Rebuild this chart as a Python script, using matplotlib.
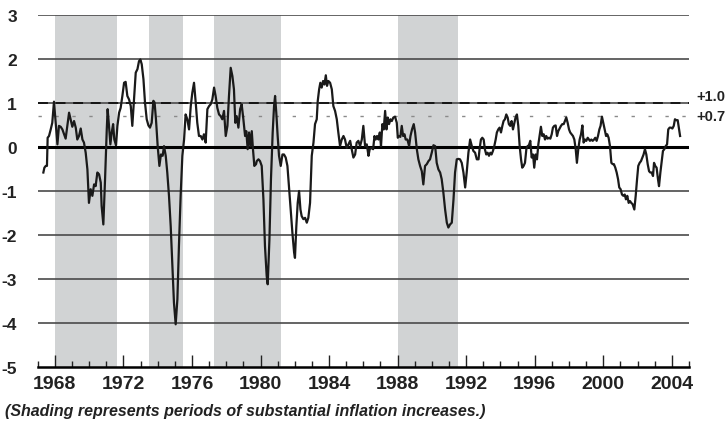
#!/usr/bin/env python3
"""
Recreated chart: indicator with shaded inflation-increase periods
Output: out.png
"""
import numpy as np
import matplotlib
matplotlib.use("Agg")
import matplotlib.pyplot as plt
import matplotlib.transforms as mtransforms

# ── data ──
years = [
    1967.33, 1967.39, 1967.47, 1967.54, 1967.58, 1967.66, 1967.76, 1967.85, 1967.95, 1968.05,
    1968.15, 1968.24, 1968.34, 1968.44, 1968.54, 1968.63, 1968.73, 1968.83, 1968.92, 1969.02,
    1969.12, 1969.22, 1969.31, 1969.41, 1969.51, 1969.61, 1969.70, 1969.80, 1969.90, 1969.99,
    1970.09, 1970.19, 1970.29, 1970.38, 1970.48, 1970.58, 1970.68, 1970.73, 1970.83, 1970.93,
    1971.03, 1971.08, 1971.16, 1971.24, 1971.32, 1971.40, 1971.47, 1971.57, 1971.65, 1971.75,
    1971.84, 1971.94, 1972.04, 1972.13, 1972.23, 1972.33, 1972.43, 1972.52, 1972.62, 1972.72,
    1972.82, 1972.91, 1972.99, 1973.07, 1973.17, 1973.26, 1973.36, 1973.46, 1973.55,
    1973.65, 1973.75, 1973.82, 1973.90, 1974.00, 1974.10, 1974.19, 1974.29, 1974.37, 1974.47,
    1974.56, 1974.66, 1974.76, 1974.86, 1974.95, 1975.05, 1975.15, 1975.24, 1975.34, 1975.44,
    1975.54, 1975.63, 1975.73, 1975.83, 1975.93, 1976.02, 1976.12, 1976.22, 1976.31, 1976.41,
    1976.51, 1976.61, 1976.70, 1976.80, 1976.90, 1977.00, 1977.09, 1977.19, 1977.29, 1977.38,
    1977.48, 1977.58, 1977.68, 1977.77, 1977.87, 1977.97, 1978.07, 1978.16, 1978.26, 1978.36,
    1978.45, 1978.53, 1978.61, 1978.71, 1978.81, 1978.90, 1979.00, 1979.10, 1979.17, 1979.25,
    1979.33, 1979.41, 1979.49, 1979.56, 1979.64, 1979.74,
    1979.78, 1979.88, 1979.97, 1980.07, 1980.17, 1980.26, 1980.36, 1980.42, 1980.52, 1980.61,
    1980.71, 1980.79, 1980.85, 1980.92, 1981.00, 1981.08, 1981.18, 1981.28, 1981.37, 1981.47,
    1981.57, 1981.66, 1981.76, 1981.86, 1981.96, 1982.01, 1982.09, 1982.17, 1982.25, 1982.33,
    1982.40, 1982.50, 1982.60, 1982.70, 1982.79, 1982.89, 1982.99, 1983.09, 1983.18, 1983.28,
    1983.34, 1983.42, 1983.49, 1983.57, 1983.65, 1983.73, 1983.81, 1983.88, 1983.96, 1984.06,
    1984.16, 1984.25, 1984.35, 1984.45, 1984.54, 1984.64, 1984.74, 1984.84, 1984.93, 1985.03,
    1985.13, 1985.23, 1985.32, 1985.42, 1985.52, 1985.61, 1985.71, 1985.81, 1985.91, 1986.00,
    1986.10, 1986.20, 1986.30,
    1986.37, 1986.47, 1986.57, 1986.65, 1986.72, 1986.80, 1986.88, 1986.96, 1987.03, 1987.11,
    1987.19, 1987.27, 1987.35, 1987.42, 1987.50, 1987.58, 1987.66, 1987.75, 1987.85, 1987.95,
    1988.01, 1988.08, 1988.16, 1988.24, 1988.32, 1988.40, 1988.47, 1988.57, 1988.67, 1988.75,
    1988.84, 1988.94, 1989.02, 1989.12, 1989.21, 1989.31, 1989.41, 1989.50, 1989.60, 1989.70,
    1989.80, 1989.89, 1989.99, 1990.09, 1990.19, 1990.28, 1990.38, 1990.48, 1990.57, 1990.67,
    1990.77, 1990.87, 1990.96, 1991.06, 1991.16, 1991.26, 1991.35, 1991.45, 1991.55, 1991.64,
    1991.74, 1991.84, 1991.94, 1992.03, 1992.13, 1992.23, 1992.33, 1992.42, 1992.52, 1992.62,
    1992.72,
    1992.78, 1992.86, 1992.94, 1993.02, 1993.09, 1993.17, 1993.25, 1993.33, 1993.41, 1993.48,
    1993.56, 1993.64, 1993.72, 1993.79, 1993.87, 1993.95, 1994.03, 1994.11, 1994.18, 1994.26,
    1994.34, 1994.42, 1994.49, 1994.57, 1994.65, 1994.73, 1994.81, 1994.88, 1994.96, 1995.04,
    1995.12, 1995.20, 1995.27, 1995.35, 1995.43, 1995.51, 1995.58, 1995.66, 1995.74, 1995.82,
    1995.90, 1995.97, 1996.05, 1996.13, 1996.21, 1996.28, 1996.36, 1996.44, 1996.52, 1996.60,
    1996.67, 1996.75, 1996.83, 1996.91, 1996.99, 1997.06, 1997.14, 1997.22, 1997.30, 1997.37,
    1997.45, 1997.53, 1997.61, 1997.69, 1997.76, 1997.84, 1997.92, 1998.00, 1998.07, 1998.15,
    1998.23, 1998.31, 1998.39, 1998.46, 1998.54, 1998.62, 1998.70, 1998.78, 1998.85, 1998.93,
    1999.01, 1999.09, 1999.16,
    1999.22, 1999.30, 1999.38, 1999.46, 1999.53, 1999.61, 1999.69, 1999.77, 1999.84, 1999.92,
    2000.00, 2000.08, 2000.16, 2000.23, 2000.31, 2000.39, 2000.47, 2000.55, 2000.62, 2000.70,
    2000.78, 2000.86, 2000.93, 2001.01, 2001.09, 2001.17, 2001.25, 2001.32, 2001.40, 2001.48,
    2001.56, 2001.63, 2001.71, 2001.81, 2001.89, 2001.97, 2002.04, 2002.12, 2002.20, 2002.28,
    2002.35, 2002.43, 2002.51, 2002.59, 2002.67, 2002.74, 2002.82, 2002.90, 2002.96, 2003.03,
    2003.11, 2003.19, 2003.25, 2003.33, 2003.40, 2003.48, 2003.56, 2003.64, 2003.72, 2003.79,
    2003.87, 2003.95, 2004.03, 2004.11, 2004.18, 2004.26, 2004.34, 2004.42, 2004.48,
]

values = [
    -0.58, -0.47, -0.43, -0.43, 0.21, 0.25, 0.40, 0.55, 1.03, 0.55,
    0.06, 0.48, 0.46, 0.40, 0.29, 0.19, 0.48, 0.78, 0.63, 0.46,
    0.59, 0.44, 0.17, 0.25, 0.42, 0.17, 0.10, -0.13, -0.51, -1.27,
    -0.96, -1.11, -0.85, -0.89, -0.58, -0.62, -0.81, -1.34, -1.76, -0.73,
    0.40, 0.86, 0.48, 0.06, 0.33, 0.52, 0.17, 0.04, 0.48, 0.78,
    0.89, 1.16, 1.46, 1.48, 1.16, 1.08, 0.93, 0.48, 1.08, 1.69,
    1.77, 1.95, 1.99, 1.88, 1.54, 1.01, 0.63, 0.49, 0.44,
    0.55, 1.05, 1.01, 0.63, 0.02, -0.43, -0.17, -0.20, 0.02, -0.20,
    -0.58, -1.11, -1.80, -2.70, -3.54, -4.03, -3.46, -2.25, -1.11, -0.20,
    0.17, 0.74, 0.63, 0.40, 0.93, 1.23, 1.46, 1.01, 0.55, 0.25,
    0.25, 0.17, 0.29, 0.10, 0.86, 0.93, 0.97, 1.08, 1.35, 1.16,
    0.89, 0.74, 0.70, 0.63, 0.82, 0.25, 0.48, 1.16, 1.80, 1.61,
    1.31, 0.55, 0.70, 0.44, 0.86, 0.97, 0.63, 0.25, 0.36, -0.05,
    0.33, 0.02, 0.36, -0.05, -0.43, -0.39,
    -0.32, -0.28, -0.32, -0.43, -1.19, -2.25, -2.93, -3.12, -2.10, -0.73,
    0.33, 0.93, 1.16, 0.78, 0.25, -0.20, -0.43, -0.17, -0.17, -0.24,
    -0.43, -0.89, -1.42, -1.95, -2.40, -2.52, -1.80, -1.27, -1.00, -1.42,
    -1.57, -1.64, -1.61, -1.72, -1.61, -1.27, -0.20, 0.10, 0.52, 0.63,
    1.05, 1.31, 1.46, 1.35, 1.50, 1.42, 1.63, 1.39, 1.50, 1.46,
    1.31, 0.93, 0.82, 0.63, 0.33, 0.02, 0.17, 0.25, 0.17, -0.02,
    0.06, 0.14, -0.05, -0.24, -0.17, 0.10, 0.14, 0.02, 0.17, 0.48,
    0.02, 0.06, -0.20,
    -0.05, -0.02, -0.05, 0.25, 0.17, 0.25, 0.17, 0.33, 0.02, 0.52,
    0.40, 0.82, 0.40, 0.67, 0.52, 0.63, 0.59, 0.67, 0.69, 0.55,
    0.21, 0.25, 0.23, 0.48, 0.25, 0.29, 0.17, 0.17, 0.02, 0.25,
    0.40, 0.52, 0.33, -0.05, -0.28, -0.43, -0.55, -0.85, -0.43, -0.39,
    -0.32, -0.28, -0.13, 0.04, 0.02, -0.36, -0.51, -0.58, -0.73, -1.04,
    -1.42, -1.72, -1.83, -1.76, -1.72, -1.19, -0.58, -0.28, -0.27, -0.28,
    -0.36, -0.58, -0.92, -0.58, -0.13, 0.17, 0.02, -0.09, -0.13, -0.28,
    -0.28,
    -0.05, 0.17, 0.21, 0.17, -0.05, -0.17, -0.13, -0.20, -0.13, -0.17,
    -0.09, 0.02, 0.17, 0.33, 0.40, 0.44, 0.33, 0.48, 0.59, 0.63,
    0.74, 0.67, 0.52, 0.48, 0.59, 0.40, 0.55, 0.67, 0.74, 0.48,
    0.02, -0.28, -0.47, -0.43, -0.36, -0.05, 0.02, 0.04, 0.14, -0.24,
    -0.17, -0.47, -0.17, -0.28, 0.06, 0.25, 0.46, 0.25, 0.29, 0.17,
    0.25, 0.19, 0.21, 0.19, 0.29, 0.44, 0.48, 0.49, 0.25, 0.36,
    0.42, 0.48, 0.52, 0.52, 0.59, 0.67, 0.55, 0.40, 0.33, 0.29,
    0.25, 0.17, -0.05, -0.36, -0.05, 0.17, 0.29, 0.49, 0.10, 0.17,
    0.14, 0.21, 0.17,
    0.14, 0.17, 0.14, 0.17, 0.21, 0.14, 0.25, 0.40, 0.48, 0.69,
    0.55, 0.40, 0.25, 0.29, 0.21, 0.02, -0.36, -0.39, -0.39, -0.47,
    -0.58, -0.73, -0.92, -0.96, -1.08, -1.11, -1.08, -1.19, -1.11, -1.27,
    -1.23, -1.27, -1.30, -1.42, -1.11, -0.73, -0.43, -0.36, -0.32, -0.24,
    -0.17, -0.05, -0.17, -0.39, -0.55, -0.58, -0.58, -0.66, -0.36, -0.43,
    -0.47, -0.73, -0.89, -0.58, -0.36, -0.09, -0.05, 0.02, 0.06, 0.40,
    0.44, 0.44, 0.42, 0.48, 0.63, 0.61, 0.61, 0.40, 0.25,
]

# shaded periods (substantial inflation increases)
shade_starts = [1968.0, 1973.5, 1977.3, 1988.0]
shade_ends = [1971.65, 1975.5, 1981.2, 1991.55]

# reference thresholds
thresholds = [1.0, 0.7]
threshold_labels = ["+1.0", "+0.7"]

y_ticks = [3, 2, 1, 0, -1, -2, -3, -4, -5]
x_major = [1968, 1972, 1976, 1980, 1984, 1988, 1992, 1996, 2000, 2004]
x_minor = list(range(1967, 2006))
caption = "(Shading represents periods of substantial inflation increases.)"

# ── style ──
plt.rcParams['font.family'] = ['Liberation Sans Narrow', 'Liberation Sans', 'DejaVu Sans']
plt.rcParams['font.weight'] = 'bold'

fig = plt.figure(figsize=(7.28, 4.31), dpi=100)
ax = fig.add_axes([37.7 / 728, 63 / 431, 651.3 / 728, 352 / 431])

# shading
for s, e in zip(shade_starts, shade_ends):
    ax.axvspan(s, e, color='#d1d3d4', lw=0, zorder=0)

# gridlines
for yv in y_ticks:
    if yv == 0:
        ax.axhline(yv, color='black', lw=2.2, zorder=2)
    elif yv == -5:
        continue
    else:
        ax.axhline(yv, color='#4a4a4a', lw=1.2, zorder=1)

# threshold lines
ax.axhline(thresholds[0], color='black', lw=1.1, linestyle=(0, (6.5, 5)), zorder=2)
ax.axhline(thresholds[1], color='#8a8a8a', lw=1.0, linestyle=(0, (2.4, 9.8)), zorder=2)

# labels to the right; the upper one nudged up so the pair doesn't collide
trans = mtransforms.blended_transform_factory(ax.transAxes, ax.transData)
label_nudge = [5, 0]   # points
for t, lab, dy in zip(thresholds, threshold_labels, label_nudge):
    ax.annotate(lab, xy=(1.012, t), xycoords=trans, xytext=(0, dy),
                textcoords='offset points', ha='left', va='center',
                fontsize=10.5, fontweight='bold', color='#222222',
                annotation_clip=False)

# series
ax.plot(years, values, color='#1a1a1a', lw=1.6, zorder=3)

# ── axes ──
ax.set_xlim(1967, 2005)
ax.set_ylim(-5, 3)
for side in ['top', 'right', 'left']:
    ax.spines[side].set_visible(False)
ax.spines['bottom'].set_linewidth(1.8)
ax.spines['bottom'].set_color('black')
ax.spines['bottom'].set_zorder(4)

ax.set_yticks(y_ticks)
ax.set_yticklabels([str(v) for v in y_ticks], fontsize=12.5, fontweight='bold', color='#222222')
ax.tick_params(axis='y', length=0, pad=15)

ax.set_xticks(x_major)
ax.set_xticklabels([str(v) for v in x_major], fontsize=14, fontweight='bold', color='#222222')
ax.set_xticks(x_minor, minor=True)
ax.tick_params(axis='x', which='major', direction='in', length=8.5, width=1.0, color='#222222', pad=6)
ax.tick_params(axis='x', which='minor', direction='in', length=4, width=1.0, color='#222222')

fig.text(5 / 728, 1 - 412 / 431, caption, ha='left', va='center',
         fontsize=11.5, fontweight='bold', fontstyle='italic', color='#222222')

plt.savefig("out.png", dpi=100)
plt.close()
